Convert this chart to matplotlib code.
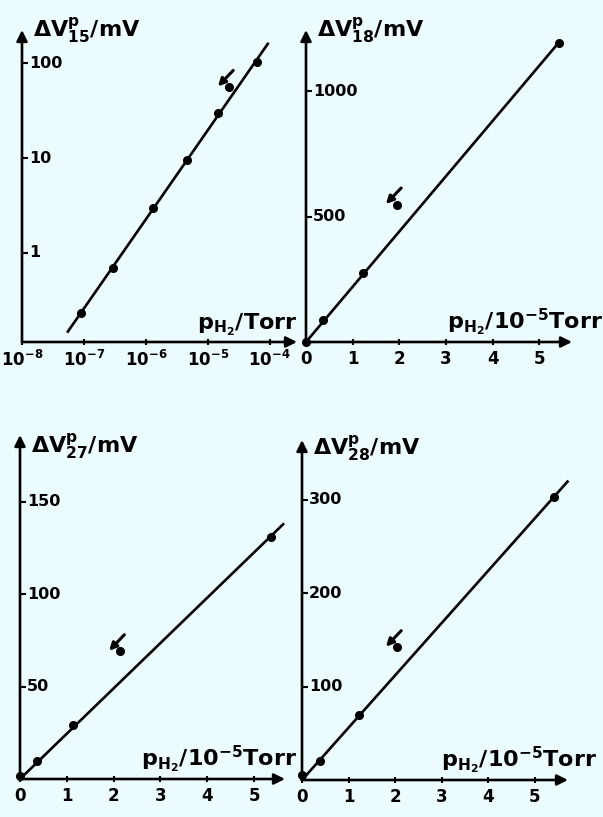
import numpy as np
import matplotlib
matplotlib.use('Agg')
import matplotlib.pyplot as plt
from matplotlib.transforms import ScaledTranslation

plt.rcParams['font.family'] = ['DejaVu Sans']
plt.rcParams['mathtext.fontset'] = 'dejavusans'
plt.rcParams['font.weight'] = 'bold'

BG = '#ecfbfe'

# ---------------- data ----------------
# panel 15 (log-log)
p15 = [9.0e-8, 2.9e-7, 1.3e-6, 4.6e-6, 1.45e-5, 6.2e-5]
v15 = [0.23, 0.69, 3.0, 9.5, 30.0, 102.0]
p15_marked, v15_marked = 2.2e-5, 56.0
p15_fit_range = [5.5e-8, 9.3e-5]
p15_xticks = [1e-8, 1e-7, 1e-6, 1e-5, 1e-4]
p15_xticklabels = [r'$\mathbf{10^{-8}}$', r'$\mathbf{10^{-7}}$',
                   r'$\mathbf{10^{-6}}$', r'$\mathbf{10^{-5}}$',
                   r'$\mathbf{10^{-4}}$']
v15_yticks = [1, 10, 100]
v15_yticklabels = ['1', '10', '100']

# panel 18
p18 = [0.0, 0.36, 1.22, 5.42]
v18 = [0.0, 87.0, 274.0, 1194.0]
p18_marked, v18_marked = 1.95, 548.0
p18_fit_end = 5.44
v18_yticks = [500, 1000]

# panel 27
p27 = [0.0, 0.36, 1.13, 5.36]
v27 = [1.5, 10.0, 29.0, 131.0]
p27_marked, v27_marked = 2.14, 69.0
p27_fit_end = 5.62
v27_yticks = [50, 100, 150]

# panel 28
p28 = [0.0, 0.39, 1.22, 5.41]
v28 = [5.0, 20.0, 70.0, 303.0]
p28_marked, v28_marked = 2.04, 142.0
p28_fit_end = 5.70
v28_yticks = [100, 200, 300]

lin_xticks = [0, 1, 2, 3, 4, 5]

# ---------------- figure ----------------
W, H = 603, 817
fig = plt.figure(figsize=(W / 100, H / 100), dpi=100)
fig.patch.set_facecolor(BG)


def make_axes(left, right, bottom, top):
    return fig.add_axes([left / W, 1 - bottom / H, (right - left) / W, (bottom - top) / H])


def style(ax, xlabel, ylabel, xlab_dx, ylab_dy):
    ax.set_facecolor('none')
    for s in ax.spines.values():
        s.set_visible(False)
    ap = dict(arrowstyle='-|>', lw=1.9, color='k', mutation_scale=16, shrinkA=0, shrinkB=0)
    ax.annotate('', xy=(1, 0), xytext=(0, 0), xycoords='axes fraction', arrowprops=ap,
                annotation_clip=False)
    ax.annotate('', xy=(0, 1), xytext=(0, 0), xycoords='axes fraction', arrowprops=ap,
                annotation_clip=False)
    ax.tick_params(axis='y', direction='in', length=4, width=1.5, pad=-5, labelsize=11.5)
    ax.tick_params(axis='x', direction='inout', length=5, width=1.5, pad=3, labelsize=12)
    for t in ax.get_yticklabels():
        t.set_ha('left')
        t.set_va('center')
    ax.annotate(xlabel, xy=(1, 0), xycoords='axes fraction', xytext=(xlab_dx, 9),
                textcoords='offset points', ha='right', va='baseline', fontsize=16)
    ax.annotate(ylabel, xy=(0, 1), xycoords='axes fraction', xytext=(8, ylab_dy),
                textcoords='offset points', ha='left', va='baseline', fontsize=16)


def mark(ax, x, y):
    ax.plot([x], [y], 'o', color='k', ms=5.5, clip_on=False)
    tr = ax.transData
    tail = tr + ScaledTranslation(3 / 72, 12 / 72, fig.dpi_scale_trans)
    head = tr + ScaledTranslation(-8 / 72, 0.5 / 72, fig.dpi_scale_trans)
    ax.annotate('', xy=(x, y), xycoords=head, xytext=(x, y), textcoords=tail,
                arrowprops=dict(arrowstyle='-|>', lw=2.2, color='k', mutation_scale=11,
                                shrinkA=0, shrinkB=0), annotation_clip=False)


xlab_lin = r'$\mathbf{p_{H_2}}$/10$^{\mathbf{-5}}$Torr'

# panel 1: log-log
ax1 = make_axes(22, 297, 342, 30)
ax1.set_xscale('log')
ax1.set_yscale('log')
ax1.set_xlim(1e-8, 10 ** -3.56)
ax1.set_ylim(10 ** -0.94, 10 ** 2.35)
lp = np.log10(p15)
lv = np.log10(v15)
k, b = np.polyfit(lp, lv, 1)
fx = np.array(p15_fit_range)
ax1.plot(fx, 10 ** (k * np.log10(fx) + b), color='k', lw=1.9)
ax1.plot(p15, v15, 'o', color='k', ms=5.5)
mark(ax1, p15_marked, v15_marked)
ax1.set_xticks(p15_xticks)
ax1.set_xticklabels(p15_xticklabels)
ax1.xaxis.set_minor_locator(matplotlib.ticker.NullLocator())
ax1.set_yticks(v15_yticks)
ax1.set_yticklabels(v15_yticklabels)
ax1.yaxis.set_minor_locator(matplotlib.ticker.NullLocator())
style(ax1, r'$\mathbf{p_{H_2}}$/Torr', r'$\mathbf{\Delta V^{p}_{15}}$/mV', 0, -5)


def linear_panel(ax, px, vy, pm, vm, fit_end, xlim, ylim, yticks, ylabel, xdx, ydy):
    ax.set_xlim(*xlim)
    ax.set_ylim(*ylim)
    x = np.array(px[1:])
    y = np.array(vy[1:])
    slope = np.sum(x * y) / np.sum(x * x)
    ax.plot([0, fit_end], [0, slope * fit_end], color='k', lw=1.9, clip_on=False)
    ax.plot(px, vy, 'o', color='k', ms=5.5, clip_on=False)
    mark(ax, pm, vm)
    ax.set_xticks(lin_xticks)
    ax.set_xticklabels([str(t) for t in lin_xticks])
    ax.set_yticks(yticks)
    ax.set_yticklabels([str(t) for t in yticks])
    style(ax, xlab_lin, ylabel, xdx, ydy)


ax2 = make_axes(306, 572, 342, 30)
linear_panel(ax2, p18, v18, p18_marked, v18_marked, p18_fit_end, (0, 5.70), (0, 1245),
             v18_yticks, r'$\mathbf{\Delta V^{p}_{18}}$/mV', 22, -5)

ax3 = make_axes(20, 285, 779, 435)
linear_panel(ax3, p27, v27, p27_marked, v27_marked, p27_fit_end, (0, 5.66), (0, 186),
             v27_yticks, r'$\mathbf{\Delta V^{p}_{27}}$/mV', 9, -13)

ax4 = make_axes(302, 568, 780, 440)
linear_panel(ax4, p28, v28, p28_marked, v28_marked, p28_fit_end, (0, 5.71), (0, 364),
             v28_yticks, r'$\mathbf{\Delta V^{p}_{28}}$/mV', 21, -11)

fig.savefig('out.png', dpi=100, facecolor=BG)
